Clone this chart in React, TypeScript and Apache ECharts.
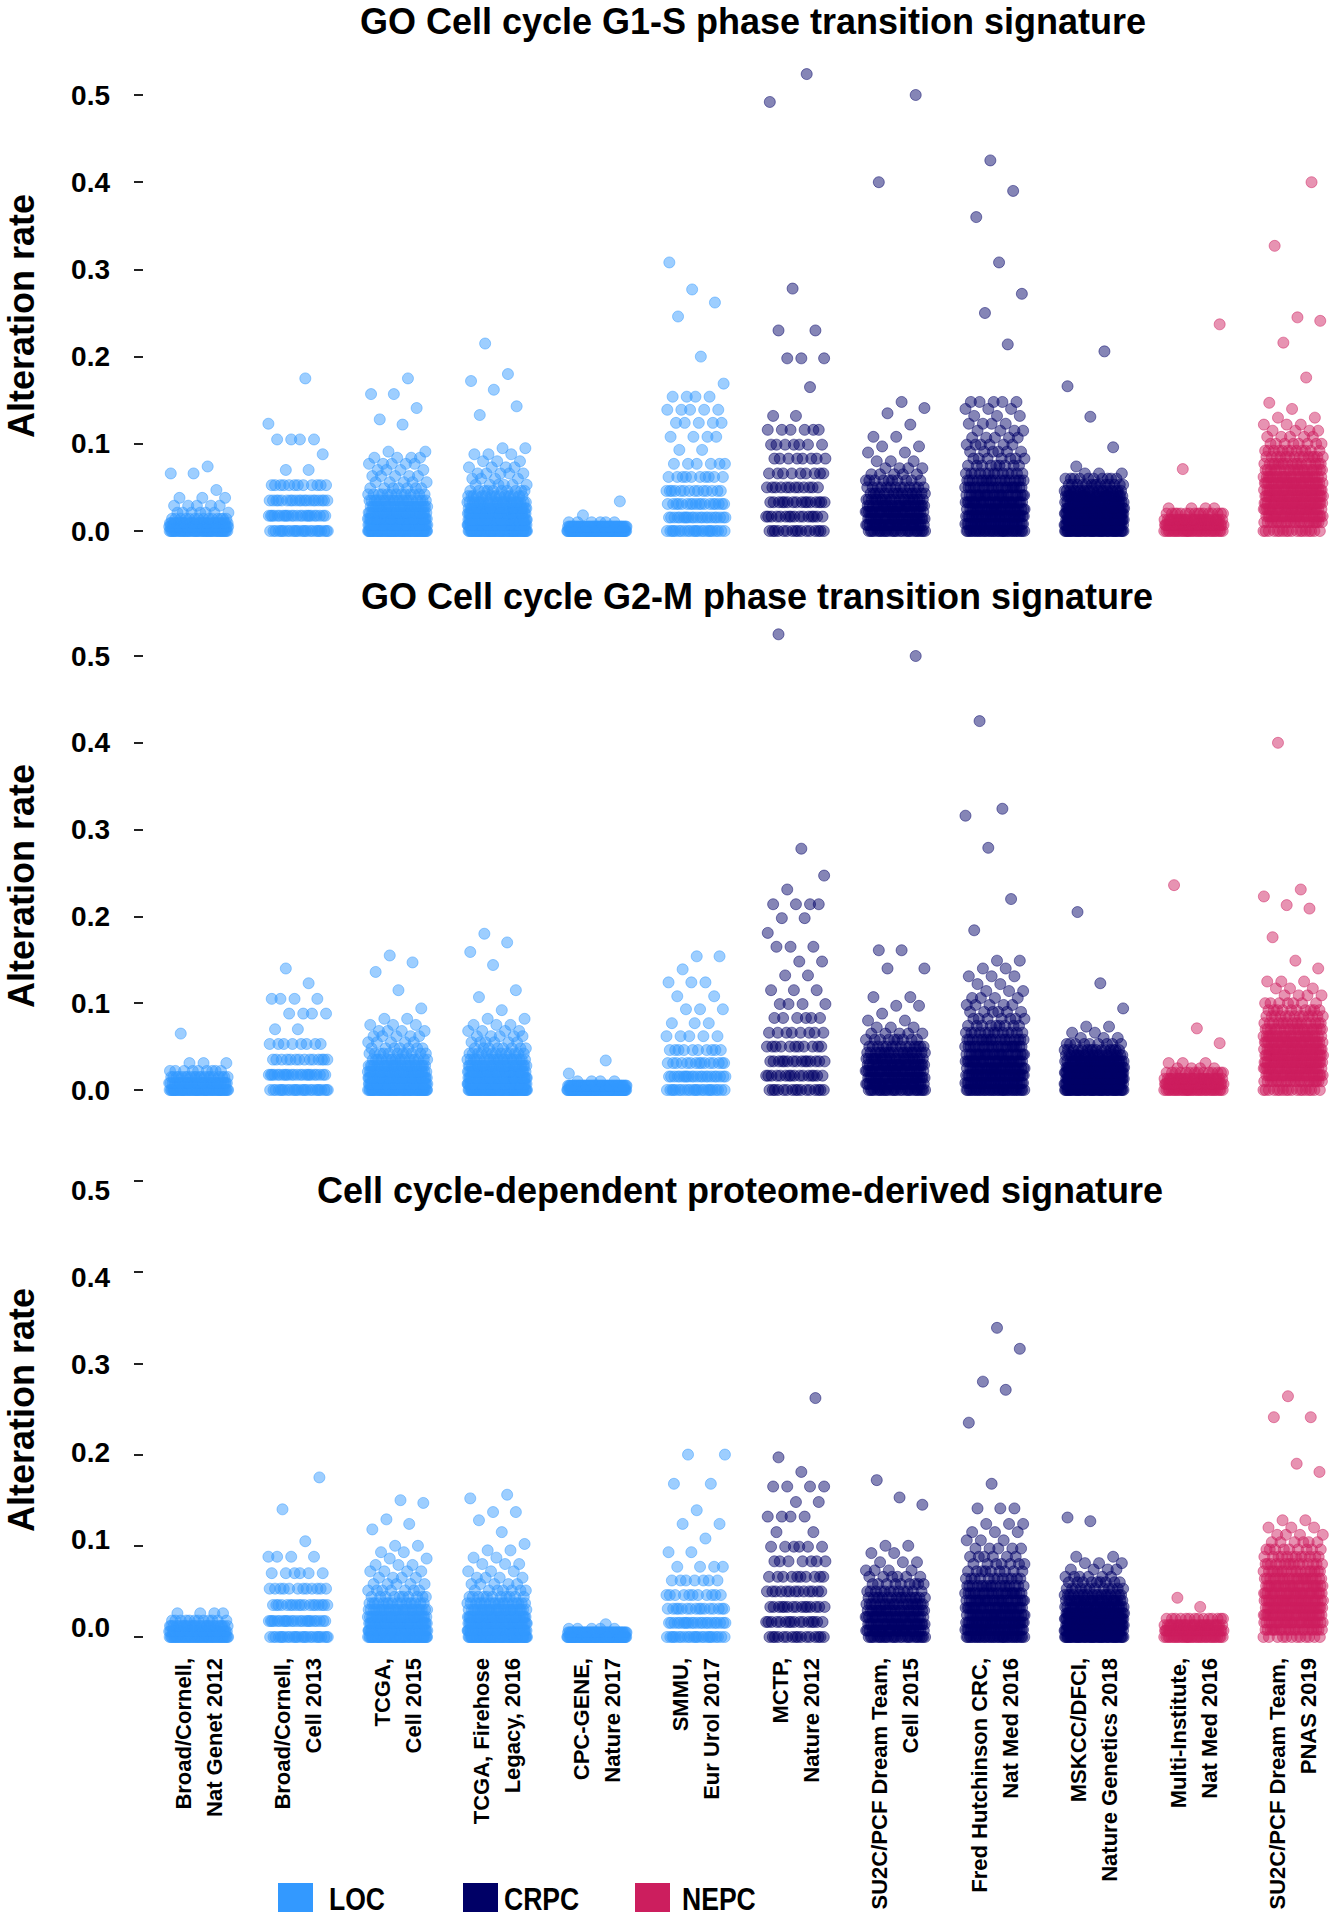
import React, { useEffect, useRef } from "react";
import * as echarts from "echarts";

// ---------------- data ----------------
const STUDIES: string[] = [
  "Broad/Cornell,\nNat Genet 2012",
  "Broad/Cornell,\nCell 2013",
  "TCGA,\nCell 2015",
  "TCGA, Firehose\nLegacy, 2016",
  "CPC-GENE,\nNature 2017",
  "SMMU,\nEur Urol 2017",
  "MCTP,\nNature 2012",
  "SU2C/PCF Dream Team,\nCell 2015",
  "Fred Hutchinson CRC,\nNat Med 2016",
  "MSKCC/DFCI,\nNature Genetics 2018",
  "Multi-Institute,\nNat Med 2016",
  "SU2C/PCF Dream Team,\nPNAS 2019",
];
const STUDY_GROUP: string[] = ["LOC", "LOC", "LOC", "LOC", "LOC", "LOC", "CRPC", "CRPC", "CRPC", "CRPC", "NEPC", "NEPC"];
const GROUPS: string[] = ["LOC", "CRPC", "NEPC"];
const PANEL_TITLES: string[] = [
  "GO Cell cycle G1-S phase transition signature",
  "GO Cell cycle G2-M phase transition signature",
  "Cell cycle-dependent proteome-derived signature",
];
const Y_AXIS_TITLE = "Alteration rate";

// Each study: list of [alteration rate, number of samples at that rate]
const g1sRates: [number, number][][] = [
  [[0, 50], [0.005, 40], [0.009, 35], [0.014, 14], [0.021, 7], [0.029, 5], [0.038, 3], [0.047, 1], [0.066, 2], [0.074, 1]],
  [[0, 26], [0.0175, 24], [0.035, 20], [0.0526, 12], [0.07, 2], [0.088, 1], [0.105, 4], [0.123, 1], [0.175, 1]],
  [[0, 70], [0.007, 60], [0.014, 50], [0.021, 38], [0.028, 28], [0.035, 20], [0.042, 13], [0.049, 7], [0.056, 5], [0.063, 5], [0.07, 4], [0.077, 5], [0.084, 4], [0.091, 2], [0.122, 1], [0.128, 1], [0.141, 1], [0.157, 2], [0.175, 1]],
  [[0, 70], [0.007, 65], [0.013, 55], [0.02, 45], [0.026, 34], [0.033, 25], [0.04, 16], [0.046, 10], [0.053, 6], [0.06, 4], [0.066, 5], [0.073, 4], [0.08, 3], [0.088, 3], [0.095, 2], [0.133, 1], [0.143, 1], [0.162, 1], [0.172, 1], [0.18, 1], [0.215, 1]],
  [[0, 80], [0.005, 55], [0.01, 6], [0.018, 1], [0.034, 1]],
  [[0, 24], [0.0155, 22], [0.031, 18], [0.046, 14], [0.062, 10], [0.077, 6], [0.093, 2], [0.108, 4], [0.124, 5], [0.139, 5], [0.154, 4], [0.169, 1], [0.2, 1], [0.246, 1], [0.262, 1], [0.277, 1], [0.308, 1]],
  [[0, 16], [0.0165, 16], [0.033, 16], [0.05, 12], [0.066, 9], [0.083, 8], [0.099, 7], [0.116, 6], [0.132, 2], [0.165, 1], [0.198, 3], [0.23, 2], [0.278, 1], [0.492, 1], [0.524, 1]],
  [[0, 28], [0.007, 28], [0.014, 30], [0.022, 28], [0.029, 25], [0.036, 20], [0.043, 16], [0.05, 13], [0.058, 10], [0.065, 5], [0.072, 4], [0.08, 3], [0.09, 2], [0.097, 2], [0.108, 2], [0.122, 1], [0.135, 1], [0.141, 1], [0.148, 1], [0.4, 1], [0.5, 1]],
  [[0, 35], [0.008, 35], [0.017, 35], [0.025, 30], [0.033, 28], [0.041, 25], [0.05, 22], [0.058, 18], [0.066, 13], [0.075, 9], [0.083, 7], [0.091, 6], [0.099, 6], [0.107, 5], [0.115, 4], [0.123, 4], [0.132, 3], [0.14, 3], [0.148, 5], [0.214, 1], [0.25, 1], [0.272, 1], [0.308, 1], [0.36, 1], [0.39, 1], [0.425, 1]],
  [[0, 48], [0.007, 48], [0.013, 48], [0.02, 45], [0.026, 38], [0.033, 32], [0.04, 26], [0.046, 20], [0.053, 14], [0.06, 10], [0.066, 3], [0.074, 1], [0.096, 1], [0.131, 1], [0.166, 1], [0.206, 1]],
  [[0, 35], [0.007, 35], [0.013, 28], [0.02, 16], [0.026, 4], [0.071, 1], [0.237, 1]],
  [[0, 18], [0.01, 22], [0.017, 28], [0.025, 30], [0.032, 32], [0.04, 32], [0.047, 30], [0.055, 27], [0.062, 24], [0.07, 20], [0.077, 17], [0.085, 14], [0.092, 12], [0.1, 8], [0.108, 5], [0.115, 4], [0.122, 3], [0.13, 2], [0.14, 1], [0.147, 1], [0.176, 1], [0.216, 1], [0.241, 1], [0.245, 1], [0.327, 1], [0.4, 1]],
];

const g2mRates: [number, number][][] = [
  [[0, 60], [0.008, 40], [0.015, 20], [0.022, 9], [0.031, 3], [0.065, 1]],
  [[0, 26], [0.0175, 24], [0.035, 14], [0.053, 8], [0.07, 2], [0.088, 4], [0.105, 4], [0.123, 1], [0.14, 1]],
  [[0, 65], [0.007, 58], [0.014, 46], [0.021, 35], [0.028, 26], [0.035, 17], [0.042, 11], [0.048, 7], [0.055, 5], [0.062, 5], [0.068, 4], [0.075, 3], [0.082, 2], [0.094, 1], [0.115, 1], [0.136, 1], [0.147, 1], [0.155, 1]],
  [[0, 70], [0.007, 62], [0.014, 50], [0.021, 40], [0.028, 29], [0.035, 20], [0.042, 13], [0.048, 8], [0.055, 6], [0.062, 5], [0.068, 4], [0.075, 3], [0.082, 2], [0.092, 1], [0.107, 1], [0.115, 1], [0.144, 1], [0.159, 1], [0.17, 1], [0.18, 1]],
  [[0, 80], [0.005, 55], [0.01, 4], [0.019, 1], [0.034, 1]],
  [[0, 24], [0.0155, 22], [0.031, 15], [0.046, 10], [0.062, 5], [0.077, 3], [0.093, 3], [0.108, 2], [0.124, 3], [0.139, 1], [0.154, 2]],
  [[0, 16], [0.0165, 16], [0.033, 15], [0.05, 11], [0.066, 8], [0.083, 6], [0.099, 4], [0.115, 3], [0.132, 2], [0.148, 2], [0.165, 3], [0.181, 1], [0.198, 2], [0.214, 4], [0.231, 1], [0.247, 1], [0.278, 1], [0.525, 1]],
  [[0, 28], [0.007, 28], [0.014, 30], [0.022, 28], [0.029, 25], [0.036, 22], [0.043, 18], [0.05, 14], [0.058, 9], [0.065, 5], [0.072, 3], [0.08, 2], [0.088, 1], [0.097, 2], [0.107, 2], [0.14, 2], [0.161, 2], [0.5, 1]],
  [[0, 35], [0.008, 35], [0.017, 35], [0.025, 30], [0.033, 28], [0.041, 25], [0.05, 22], [0.058, 18], [0.066, 13], [0.074, 9], [0.082, 7], [0.09, 6], [0.098, 5], [0.106, 4], [0.114, 3], [0.122, 2], [0.131, 3], [0.14, 2], [0.149, 2], [0.184, 1], [0.22, 1], [0.279, 1], [0.316, 1], [0.324, 1], [0.425, 1]],
  [[0, 48], [0.007, 48], [0.013, 48], [0.02, 44], [0.026, 38], [0.033, 30], [0.04, 22], [0.046, 15], [0.053, 9], [0.06, 3], [0.066, 2], [0.073, 2], [0.094, 1], [0.123, 1], [0.205, 1]],
  [[0, 35], [0.007, 35], [0.013, 28], [0.02, 14], [0.025, 4], [0.031, 3], [0.054, 1], [0.071, 1], [0.236, 1]],
  [[0, 18], [0.01, 22], [0.017, 28], [0.025, 30], [0.032, 32], [0.04, 32], [0.047, 30], [0.055, 27], [0.062, 24], [0.07, 20], [0.077, 16], [0.085, 13], [0.092, 10], [0.1, 7], [0.109, 4], [0.117, 3], [0.125, 3], [0.14, 1], [0.149, 1], [0.176, 1], [0.209, 1], [0.213, 1], [0.223, 1], [0.231, 1], [0.4, 1]],
];

const proteomeRates: [number, number][][] = [
  [[0, 55], [0.006, 45], [0.012, 26], [0.018, 12], [0.026, 4]],
  [[0, 26], [0.0175, 24], [0.035, 18], [0.053, 12], [0.07, 6], [0.088, 4], [0.105, 1], [0.14, 1], [0.175, 1]],
  [[0, 68], [0.007, 60], [0.015, 48], [0.022, 37], [0.03, 26], [0.037, 16], [0.044, 10], [0.051, 7], [0.058, 5], [0.065, 4], [0.072, 4], [0.079, 3], [0.086, 2], [0.093, 2], [0.1, 2], [0.118, 1], [0.124, 1], [0.129, 1], [0.147, 1], [0.15, 1]],
  [[0, 70], [0.007, 64], [0.015, 54], [0.022, 40], [0.03, 28], [0.037, 18], [0.044, 11], [0.051, 7], [0.058, 5], [0.065, 4], [0.072, 3], [0.08, 3], [0.087, 2], [0.095, 2], [0.102, 1], [0.115, 1], [0.128, 1], [0.137, 2], [0.152, 1], [0.156, 1]],
  [[0, 80], [0.005, 55], [0.009, 5], [0.014, 1]],
  [[0, 24], [0.0155, 22], [0.031, 16], [0.046, 11], [0.062, 7], [0.077, 4], [0.093, 2], [0.108, 1], [0.124, 2], [0.139, 1], [0.168, 2], [0.2, 2]],
  [[0, 16], [0.0165, 16], [0.033, 15], [0.05, 13], [0.066, 10], [0.083, 7], [0.099, 6], [0.115, 2], [0.132, 4], [0.148, 2], [0.165, 4], [0.181, 1], [0.197, 1], [0.262, 1]],
  [[0, 28], [0.007, 28], [0.014, 28], [0.022, 26], [0.029, 22], [0.036, 19], [0.043, 16], [0.05, 12], [0.058, 9], [0.066, 6], [0.073, 4], [0.082, 3], [0.092, 2], [0.1, 2], [0.145, 1], [0.153, 1], [0.172, 1]],
  [[0, 35], [0.008, 35], [0.016, 35], [0.024, 30], [0.032, 28], [0.04, 25], [0.048, 22], [0.056, 17], [0.064, 12], [0.072, 9], [0.08, 7], [0.088, 6], [0.097, 5], [0.106, 3], [0.115, 3], [0.124, 3], [0.141, 3], [0.168, 1], [0.235, 1], [0.271, 1], [0.28, 1], [0.316, 1], [0.339, 1]],
  [[0, 48], [0.007, 48], [0.013, 48], [0.02, 44], [0.026, 38], [0.033, 30], [0.04, 24], [0.046, 18], [0.053, 12], [0.06, 9], [0.066, 6], [0.074, 4], [0.081, 3], [0.088, 2], [0.127, 1], [0.131, 1]],
  [[0, 35], [0.007, 35], [0.013, 28], [0.02, 14], [0.033, 1], [0.043, 1]],
  [[0, 12], [0.008, 22], [0.016, 28], [0.024, 30], [0.032, 32], [0.04, 30], [0.048, 28], [0.056, 25], [0.064, 22], [0.072, 18], [0.08, 15], [0.088, 12], [0.096, 9], [0.104, 6], [0.112, 4], [0.12, 3], [0.128, 2], [0.181, 1], [0.19, 1], [0.241, 2], [0.264, 1]],
];

const PANEL_DATA = [g1sRates, g2mRates, proteomeRates];

// ---------------- styling ----------------
const FONT = '"Liberation Sans", Arial, Helvetica, sans-serif';
const GROUP_RGB: Record<string, string> = { LOC: "51,153,255", CRPC: "0,0,102", NEPC: "204,30,94" };
const GROUP_SOLID: Record<string, string> = { LOC: "#3399ff", CRPC: "#000066", NEPC: "#cc1e5e" };

const GRID_LEFT = 149;
const GRID_WIDTH = 1194;
const PANEL_GRIDS = [
  { top: 95, height: 436 },
  { top: 656, height: 434 },
  { top: 1181, height: 456 },
];
const PANEL3_LABEL_GRID = { top: 1190, height: 437 };
const TITLE_POS = [
  [753, 21],
  [757, 596],
  [740, 1190],
];
const YTITLE_Y = [316, 886, 1410];

function frac(v: number) {
  return v - Math.floor(v);
}

function buildSeries(panel: number) {
  const rates = PANEL_DATA[panel];
  const byGroup: Record<string, number[][]> = { LOC: [], CRPC: [], NEPC: [] };
  rates.forEach((levels, s) => {
    let k = 0;
    levels.forEach(([v, c]) => {
      for (let j = 0; j < c; j++) {
        const jit = (frac((k + 1) * 0.6180339887 + s * 0.377) - 0.5) * 0.6;
        byGroup[STUDY_GROUP[s]].push([s + jit, v]);
        k++;
      }
    });
  });
  return GROUPS.map((g) => ({
    type: "scatter",
    name: g,
    xAxisIndex: panel,
    yAxisIndex: panel,
    data: byGroup[g],
    symbol: "circle",
    symbolSize: 11,
    clip: false,
    silent: true,
    itemStyle: {
      color: `rgba(${GROUP_RGB[g]},0.6)`,
      borderColor: `rgba(${GROUP_RGB[g]},0.6)`,
      borderWidth: 1,
    },
  }));
}

function yAxisBase(gridIndex: number, showLabel: boolean, showTick: boolean) {
  return {
    type: "value",
    gridIndex,
    min: 0,
    max: 0.5,
    interval: 0.1,
    offset: 6,
    axisLine: { show: false, onZero: false },
    splitLine: { show: false },
    axisTick: { show: showTick, length: 9, lineStyle: { color: "#222", width: 2 } },
    axisLabel: {
      show: showLabel,
      margin: 33,
      fontSize: 28,
      fontWeight: "bold",
      color: "#000",
      fontFamily: FONT,
      formatter: (v: number) => v.toFixed(1),
    },
  };
}

function buildOption() {
  const grids = [...PANEL_GRIDS, PANEL3_LABEL_GRID].map((g) => ({
    left: GRID_LEFT,
    width: GRID_WIDTH,
    top: g.top,
    height: g.height,
    containLabel: false,
  }));
  const xAxes: any[] = [0, 1, 2, 3].map((i) => ({
    type: "value",
    gridIndex: i,
    min: -0.5,
    max: 11.5,
    show: false,
    axisLine: { onZero: false },
  }));
  xAxes.push({
    type: "category",
    gridIndex: 2,
    position: "bottom",
    data: STUDIES,
    boundaryGap: true,
    axisLine: { show: false, onZero: false },
    axisTick: { show: false },
    splitLine: { show: false },
    axisLabel: {
      rotate: 90,
      interval: 0,
      margin: 21,
      fontSize: 22,
      fontWeight: "bold",
      fontFamily: FONT,
      color: "#000",
      lineHeight: 31,
    },
  });
  const yAxes = [
    yAxisBase(0, true, true),
    yAxisBase(1, true, true),
    yAxisBase(2, false, true),
    yAxisBase(3, true, false),
  ];

  const graphic: any[] = [];
  PANEL_TITLES.forEach((t, i) => {
    graphic.push({
      type: "text",
      x: TITLE_POS[i][0],
      y: TITLE_POS[i][1],
      silent: true,
      style: {
        text: t,
        fontSize: 36,
        fontWeight: "bold",
        fontFamily: FONT,
        fill: "#000",
        textAlign: "center",
        align: "center",
        textVerticalAlign: "middle",
        verticalAlign: "middle",
      },
    });
    graphic.push({
      type: "text",
      x: 21,
      y: YTITLE_Y[i],
      rotation: Math.PI / 2,
      silent: true,
      style: {
        text: Y_AXIS_TITLE,
        fontSize: 36,
        fontWeight: "bold",
        fontFamily: FONT,
        fill: "#000",
        textAlign: "center",
        align: "center",
        textVerticalAlign: "middle",
        verticalAlign: "middle",
      },
    });
  });
  const legendPos = [
    { rx: 278, tx: 329 },
    { rx: 463, tx: 504 },
    { rx: 635, tx: 682 },
  ];
  GROUPS.forEach((g, i) => {
    graphic.push({
      type: "rect",
      silent: true,
      shape: { x: legendPos[i].rx, y: 1883, width: 35, height: 29 },
      style: { fill: GROUP_SOLID[g] },
    });
    graphic.push({
      type: "text",
      x: legendPos[i].tx,
      y: 1899,
      scaleX: 0.83,
      silent: true,
      style: {
        text: g,
        fontSize: 32,
        fontWeight: "bold",
        fontFamily: FONT,
        fill: "#000",
        textAlign: "left",
        align: "left",
        textVerticalAlign: "middle",
        verticalAlign: "middle",
      },
    });
  });

  return {
    animation: false,
    backgroundColor: "#ffffff",
    grid: grids,
    xAxis: xAxes,
    yAxis: yAxes,
    series: [...buildSeries(0), ...buildSeries(1), ...buildSeries(2)],
    graphic,
  };
}

export default function App() {
  const ref = useRef<HTMLDivElement>(null);
  useEffect(() => {
    if (!ref.current) return;
    const chart = echarts.init(ref.current, null, { renderer: "svg" });
    chart.setOption(buildOption() as any);
    return () => chart.dispose();
  }, []);
  return (
    <div
      ref={ref}
      style={{ position: "absolute", left: 0, top: 0, width: 1343, height: 1920, background: "#fff" }}
    />
  );
}
